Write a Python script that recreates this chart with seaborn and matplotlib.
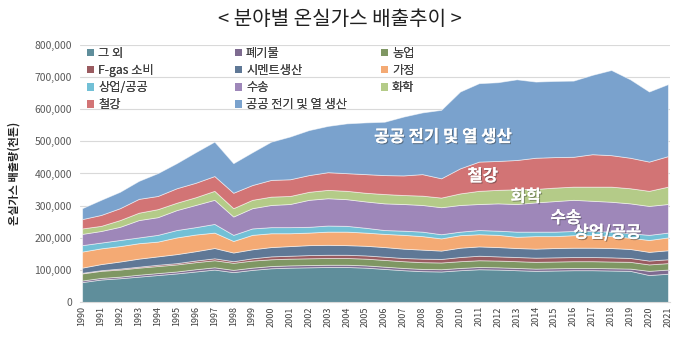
import numpy as np
import pandas as pd
import matplotlib
matplotlib.use("Agg")
import matplotlib.pyplot as plt
import matplotlib.patheffects as pe
from matplotlib.patches import Patch
from matplotlib.ticker import FuncFormatter, MultipleLocator
import seaborn as sns

years = list(range(1990, 2022))

# values in 천톤 (thousand tonnes)
etc_other = [62000, 70000, 74000, 79000, 84000, 89000, 95000, 101000, 93000, 100000, 105000, 107000, 108000, 109000, 109000, 107000,
             103000, 99000, 96000, 95000, 99000, 102000, 101000, 99000, 97000, 98000, 99000, 99000, 98000, 97000, 84000, 88000]
waste = [5000, 5000, 5000, 6000, 6000, 6000, 7000, 7000, 7000, 7000, 7000, 7000, 7000, 7000, 7000, 7000,
         7000, 7000, 7000, 7000, 7000, 7000, 7000, 7000, 7000, 7000, 7000, 7000, 7000, 7000, 13000, 13000]
agriculture = [22000, 22000, 22000, 22000, 22000, 22000, 22000, 22000, 22000, 22000, 21000, 21000, 21000, 21000, 21000, 21000,
               21000, 21000, 21000, 21000, 21000, 21000, 21000, 21000, 21000, 21000, 21000, 21000, 21000, 21000, 20000, 20000]
fgas = [2000, 2000, 3000, 3000, 4000, 4000, 5000, 6000, 5000, 7000, 9000, 9000, 10000, 10000, 10000, 10000,
        10000, 10000, 11000, 11000, 13000, 14000, 13000, 13000, 13000, 13000, 13000, 13000, 13000, 12000, 12000, 12000]
cement = [16000, 19000, 22000, 25000, 26000, 28000, 29000, 32000, 27000, 28000, 29000, 30000, 31000, 31000, 30000, 30000,
          30000, 29000, 28000, 26000, 29000, 29000, 29000, 28000, 28000, 29000, 29000, 29000, 29000, 28000, 27000, 28000]
household = [50000, 49000, 48000, 48000, 46000, 52000, 52000, 48000, 36000, 45000, 43000, 40000, 39000, 41000, 42000, 41000,
             41000, 43000, 42000, 38000, 39000, 38000, 38000, 35000, 39000, 37000, 39000, 39000, 37000, 35000, 37000, 40000]
commercial = [20000, 18000, 19000, 18000, 21000, 23000, 23000, 27000, 19000, 20000, 19000, 19000, 18000, 19000, 18000, 15000,
              12000, 13000, 14000, 13000, 11000, 13000, 13000, 16000, 14000, 14000, 13000, 13000, 14000, 14000, 16000, 15000]
transport = [35000, 36000, 41000, 54000, 55000, 62000, 69000, 75000, 57000, 63000, 69000, 72000, 84000, 85000, 83000, 82000,
             83000, 83000, 83000, 84000, 83000, 81000, 85000, 86000, 91000, 95000, 97000, 94000, 93000, 93000, 90000, 89000]
chemical = [17000, 16000, 21000, 23000, 25000, 23000, 24000, 28000, 26000, 26000, 26000, 25000, 25000, 26000, 26000, 27000,
            29000, 28000, 29000, 30000, 36000, 41000, 42000, 46000, 42000, 42000, 41000, 44000, 47000, 47000, 47000, 54000]
steel = [29000, 34000, 37000, 43000, 41000, 45000, 45000, 46000, 48000, 46000, 52000, 52000, 52000, 55000, 55000, 58000,
         59000, 61000, 67000, 60000, 78000, 91000, 90000, 91000, 97000, 95000, 93000, 101000, 98000, 95000, 91000, 95000]
power = [34000, 47000, 51000, 56000, 71000, 78000, 95000, 107000, 92000, 102000, 119000, 133000, 140000, 144000, 155000, 161000,
         166000, 183000, 192000, 213000, 239000, 244000, 245000, 251000, 237000, 237000, 237000, 247000, 265000, 244000, 218000, 224000]

series_names = ["그 외", "폐기물", "농업", "F-gas 소비", "시멘트생산", "가정",
                "상업/공공", "수송", "화학", "철강", "공공 전기 및 열 생산"]
series_values = [etc_other, waste, agriculture, fgas, cement, household,
                 commercial, transport, chemical, steel, power]
colors = ["#5F8E9B", "#7E6B90", "#7F9763", "#9A5B60", "#5F7896", "#F4AA74",
          "#72C0D6", "#9E87B9", "#B4CB88", "#D27475", "#7AA2CD"]

df = pd.DataFrame({n: v for n, v in zip(series_names, series_values)}, index=years)

sns.set_theme(style="white")
plt.rcParams['font.family'] = ['Noto Sans CJK KR', 'DejaVu Sans']
plt.rcParams['axes.unicode_minus'] = False

fig = plt.figure(figsize=(6.8, 3.38), dpi=100)
ax = fig.add_axes([0.118, 0.1065, 0.867, 0.7605])

ax.stackplot(df.index, [df[c].values for c in series_names], colors=colors,
             edgecolor=(1, 1, 1, 0.55), linewidth=0.6, zorder=2)

ax.set_xlim(1989.9, 2021.1)
ax.set_ylim(0, 800000)
ax.yaxis.set_major_locator(MultipleLocator(100000))
ax.yaxis.set_major_formatter(FuncFormatter(lambda v, p: f"{int(v):,}"))
ax.set_xticks(years)
ax.set_xticklabels([str(y) for y in years], rotation=90)
ax.tick_params(axis='x', labelsize=6.5, colors="#404040", length=0, pad=3)
ax.tick_params(axis='y', labelsize=7.5, colors="#595959", length=0, pad=6)
ax.grid(axis='y', color="#D9D9D9", linewidth=0.8, zorder=0)
ax.set_axisbelow(True)
for s in ["top", "right", "left"]:
    ax.spines[s].set_visible(False)
ax.spines["bottom"].set_color("#D9D9D9")
ax.spines["bottom"].set_linewidth(0.8)

ax.set_ylabel("온실가스 배출량(천톤)", fontsize=8, fontweight='bold', color="#262626", labelpad=4)
ax.yaxis.set_label_coords(-0.102, 0.5)

fig.text(0.5, 0.943, "< 분야별 온실가스 배출추이 >", ha='center', va='center',
         fontsize=14.5, color="#202020")

# legend in three columns (row-major order)
handles = [Patch(facecolor=c, edgecolor='none') for c in colors]
col_x = [87 / 680, 235 / 680, 381 / 680]
for ci in range(3):
    idx = list(range(ci, len(series_names), 3))
    leg = fig.legend([handles[i] for i in idx], [series_names[i] for i in idx],
                     loc='upper left', bbox_to_anchor=(col_x[ci], 0.862),
                     bbox_transform=fig.transFigure, frameon=False, fontsize=8.8,
                     handlelength=0.55, handleheight=0.55, handletextpad=0.35,
                     labelspacing=0.35, borderpad=0, borderaxespad=0)
    for t in leg.get_texts():
        t.set_color("#404040")
    fig.add_artist(leg)

shadow = [pe.withSimplePatchShadow(offset=(0.8, -0.8), shadow_rgbFace=(0.2, 0.2, 0.2), alpha=0.45), pe.Normal()]
labels_in = [("공공 전기 및 열 생산", 2009.1, 514000),
             ("철강", 2011.2, 392000),
             ("화학", 2013.5, 328000),
             ("수송", 2015.6, 262000),
             ("상업/공공", 2017.8, 216000)]
for txt, x, y in labels_in:
    t = ax.text(x, y, txt, ha='center', va='center', fontsize=12, fontweight='bold',
                color='white', zorder=5)
    t.set_path_effects(shadow)

fig.savefig("out.png", dpi=100)
